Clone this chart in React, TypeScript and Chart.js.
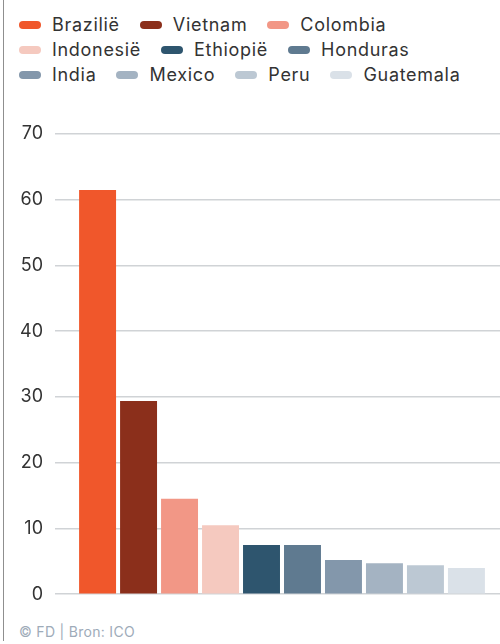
import React, { useEffect, useRef } from "react";
import { Chart, registerables } from "chart.js";

Chart.register(...registerables);

const countries = ["Brazilië", "Vietnam", "Colombia", "Indonesië", "Ethiopië", "Honduras", "India", "Mexico", "Peru", "Guatemala"];
const shares = [61.5, 29.4, 14.5, 10.5, 7.5, 7.5, 5.2, 4.7, 4.4, 4.0];
const colors = ["#f0572b", "#8b2f1b", "#f29786", "#f5c9bf", "#2e556e", "#5f7a90", "#8397ab", "#a4b3c2", "#bcc8d3", "#dae1e8"];
const yTicks = [0, 10, 20, 30, 40, 50, 60, 70];
const source = "© FD | Bron: ICO";

const FONT = "Inter, 'Open Sans', sans-serif";

export default function App() {
  const ref = useRef<HTMLCanvasElement>(null);

  useEffect(() => {
    document.body.style.margin = "0";
    const chart = new Chart(ref.current!, {
      type: "bar",
      data: {
        labels: [""],
        datasets: countries.map((c, i) => ({
          label: c,
          data: [shares[i]],
          backgroundColor: colors[i],
          borderWidth: 0,
          barPercentage: 0.902,
          categoryPercentage: 0.94,
        })),
      },
      options: {
        animation: false,
        responsive: false,
        maintainAspectRatio: false,
        layout: { padding: { top: 33, bottom: 17, left: 0, right: 0 } },
        plugins: { legend: { display: false }, tooltip: { enabled: false } },
        scales: {
          x: { display: false },
          y: {
            min: 0,
            max: 70,
            afterBuildTicks: (s: any) => {
              s.ticks = yTicks.map((v) => ({ value: v }));
            },
            afterFit: (s: any) => {
              s.width = 64;
            },
            ticks: { padding: 12, color: "#333333", font: { family: FONT, size: 18 } },
            grid: { color: "#d0d3d6", lineWidth: 1.5, tickLength: 9, drawTicks: true },
            border: { display: false },
          },
        },
      },
    });
    return () => chart.destroy();
  }, []);

  return (
    <div style={{ position: "relative", width: 500, height: 644, background: "#fff", fontFamily: FONT }}>
      <div style={{ position: "absolute", left: 3, top: 0, width: 1, height: 641, background: "#8f8f8f" }} />
      <div
        style={{
          position: "absolute",
          left: 19,
          top: 12,
          width: 470,
          display: "flex",
          flexWrap: "wrap",
          columnGap: 20,
          fontSize: 18,
          letterSpacing: "0.7px",
          color: "#333333",
          lineHeight: "25px",
        }}
      >
        {countries.map((c, i) => (
          <div key={c} style={{ display: "flex", alignItems: "center", height: 25 }}>
            <span style={{ display: "inline-block", width: 22, height: 8, borderRadius: 4, background: colors[i], marginRight: 11 }} />
            {c}
          </div>
        ))}
      </div>
      <canvas ref={ref} width={500} height={516} style={{ position: "absolute", left: 0, top: 101, width: 500, height: 516 }} />
      <div style={{ position: "absolute", left: 19, top: 623, fontSize: 14, letterSpacing: "0.3px", color: "#9eabb9", lineHeight: "18px" }}>{source}</div>
    </div>
  );
}
